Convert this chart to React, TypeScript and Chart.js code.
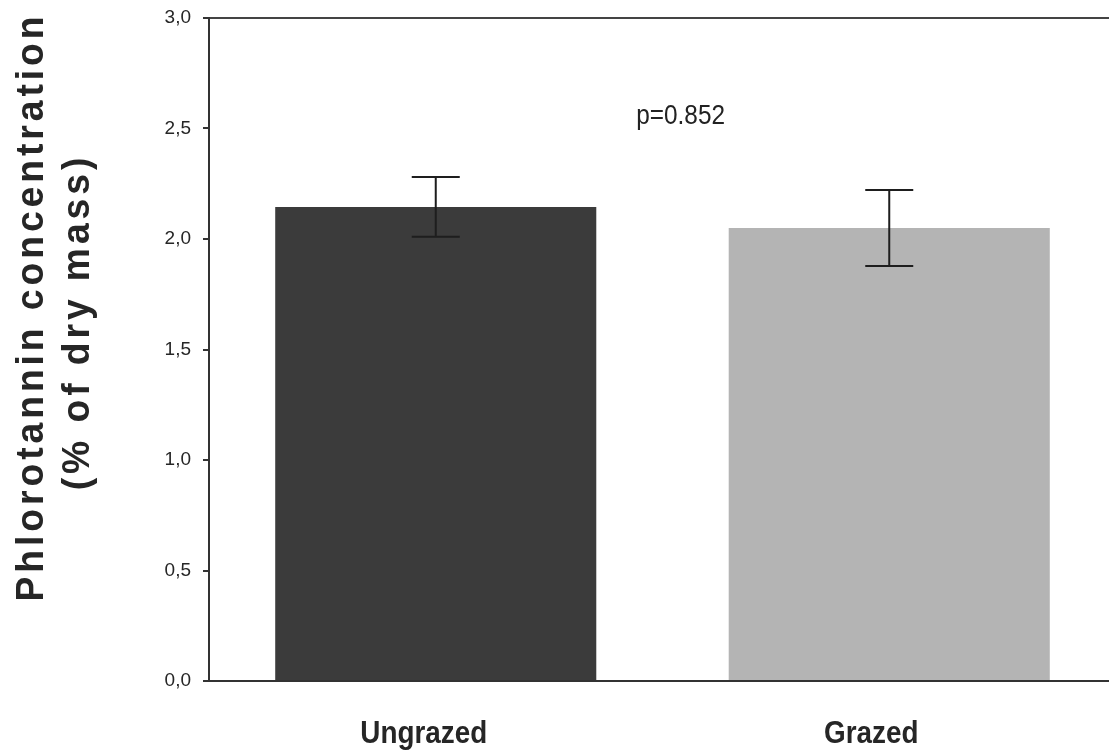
import React, { useEffect, useRef } from "react";
import { Chart, registerables } from "chart.js";

Chart.register(...registerables);

const categories = ["Ungrazed", "Grazed"];
const means = [2.145, 2.05];
const errors = [0.135, 0.172];
const barColors = ["#3b3b3b", "#b4b4b4"];
const yTicks = [0, 0.5, 1, 1.5, 2, 2.5, 3];
const yTitleLines = ["Phlorotannin concentration", "(% of dry mass)"];
const pText = "p=0.852";
const pAt = { index: 0.54, value: 2.555 };

const SANS = "'Liberation Sans', Arial, sans-serif";

const errorBarPlugin = {
  id: "errorBars",
  afterDatasetsDraw(chart: any) {
    const { ctx, scales } = chart;
    const meta = chart.getDatasetMeta(0);
    const y = scales.y;
    ctx.save();
    ctx.strokeStyle = "#1e1e1e";
    ctx.lineWidth = 2;
    meta.data.forEach((bar: any, i: number) => {
      const x = bar.x;
      const top = y.getPixelForValue(means[i] + errors[i]);
      const bot = y.getPixelForValue(means[i] - errors[i]);
      const half = 24;
      ctx.beginPath();
      ctx.moveTo(x, top);
      ctx.lineTo(x, bot);
      ctx.moveTo(x - half, top);
      ctx.lineTo(x + half, top);
      ctx.moveTo(x - half, bot);
      ctx.lineTo(x + half, bot);
      ctx.stroke();
    });
    ctx.restore();
  },
};

const textPlugin = {
  id: "texts",
  afterDraw(chart: any) {
    const { ctx, scales, chartArea } = chart;
    ctx.save();
    ctx.fillStyle = "#222";

    // p-value annotation (narrow look)
    ctx.font = `28px ${SANS}`;
    ctx.textAlign = "center";
    ctx.textBaseline = "middle";
    ctx.save();
    ctx.translate(scales.x.getPixelForValue(pAt.index), scales.y.getPixelForValue(pAt.value));
    ctx.scale(0.87, 1);
    ctx.fillText(pText, 0, 0);
    ctx.restore();

    // category labels (narrow bold)
    ctx.font = `bold 32px ${SANS}`;
    ctx.textBaseline = "alphabetic";
    ctx.fillStyle = "#262626";
    const labelShift = [-12, -18];
    categories.forEach((c, i) => {
      ctx.save();
      ctx.translate(scales.x.getPixelForTick(i) + labelShift[i], chartArea.bottom + 62);
      ctx.scale(0.87, 1);
      ctx.fillText(c, 0, 0);
      ctx.restore();
    });

    // y-axis title (rotated, bold, letter-spaced)
    ctx.font = `bold 38px ${SANS}`;
    (ctx as any).letterSpacing = "4px";
    ctx.textAlign = "center";
    const s = 589 / ctx.measureText(yTitleLines[0]).width;
    const centers = [307, 322];
    const baselines = [43, 89];
    yTitleLines.forEach((line, i) => {
      ctx.save();
      ctx.translate(baselines[i], centers[i]);
      ctx.rotate(-Math.PI / 2);
      ctx.scale(s, 1);
      ctx.fillText(line, 0, 0);
      ctx.restore();
    });
    ctx.restore();
  },
};

export default function App() {
  const ref = useRef<HTMLCanvasElement | null>(null);
  useEffect(() => {
    if (!ref.current) return;
    const chart = new Chart(ref.current, {
      type: "bar",
      data: {
        labels: categories,
        datasets: [
          {
            data: means,
            backgroundColor: barColors,
            borderWidth: 0,
            barPercentage: 0.708,
            categoryPercentage: 1,
          },
        ],
      },
      options: {
        responsive: false,
        animation: false,
        layout: { padding: { top: 18, left: 0, right: 0, bottom: 0 } },
        plugins: { legend: { display: false }, tooltip: { enabled: false } },
        scales: {
          x: {
            grid: { display: false },
            border: { display: true, color: "#333", width: 2 },
            ticks: { display: false },
            afterFit(scale: any) {
              scale.height = 71;
            },
          },
          y: {
            min: 0,
            max: 3,
            afterBuildTicks(scale: any) {
              scale.ticks = yTicks.map((v) => ({ value: v }));
            },
            grid: {
              drawOnChartArea: true,
              drawTicks: true,
              tickLength: 6,
              tickColor: "#333",
              lineWidth: 2,
              color: (c: any) => (c.tick && c.tick.value === 3 ? "#444" : "rgba(0,0,0,0)"),
            },
            border: { display: true, color: "#333", width: 2 },
            ticks: {
              color: "#262626",
              font: { family: SANS, size: 19 },
              padding: 12,
              callback: (v: any) => Number(v).toFixed(1).replace(".", ","),
            },
            afterFit(scale: any) {
              scale.width = 209;
              scale.paddingTop = 0;
              scale.paddingBottom = 0;
            },
          },
        },
      },
      plugins: [errorBarPlugin, textPlugin],
    });
    return () => chart.destroy();
  }, []);
  return (
    <div style={{ position: "fixed", left: 0, top: 0, width: 1109, height: 752, overflow: "hidden", background: "#fff" }}>
      <canvas ref={ref} width={1116} height={752} style={{ display: "block" }} />
    </div>
  );
}
